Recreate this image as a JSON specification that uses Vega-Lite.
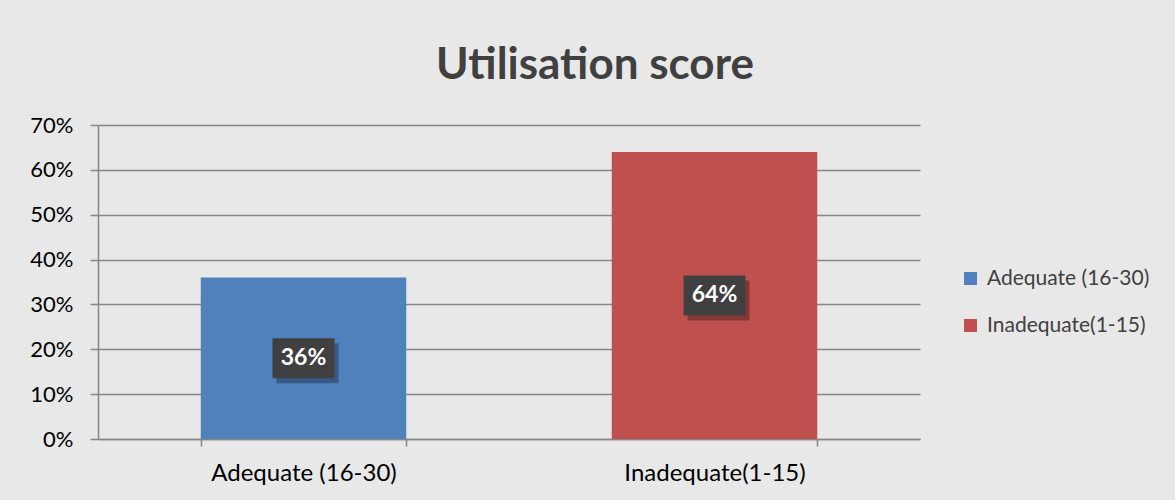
{
  "$schema": "https://vega.github.io/schema/vega-lite/v6.json",
  "autosize": "none",
  "width": 822,
  "height": 314,
  "padding": {"left": 98, "top": 125, "right": 255, "bottom": 61},
  "background": "#e8e8e8",
  "title": {
    "text": "Utilisation score",
    "font": "Lato",
    "fontSize": 44,
    "fontWeight": "bold",
    "color": "#404040",
    "anchor": "middle",
    "frame": "group",
    "dx": 86,
    "offset": 26
  },
  "data": {
    "values": [
      {"category": "Adequate (16-30)", "value": 0.36},
      {"category": "Inadequate(1-15)", "value": 0.64}
    ]
  },
  "transform": [{"calculate": "datum.value / 2", "as": "mid"}],
  "encoding": {
    "x": {
      "field": "category",
      "type": "nominal",
      "sort": null,
      "scale": {"paddingInner": 0.5, "paddingOuter": 0.25},
      "axis": {
        "title": null,
        "labelAngle": 0,
        "labelLimit": 0,
        "labelFont": "Lato",
        "labelFontSize": 24,
        "labelColor": "#000000",
        "labelPadding": 15,
        "domainColor": "#868686",
        "domainWidth": 1.5,
        "tickColor": "#868686",
        "tickWidth": 1.5,
        "tickSize": 7,
        "tickBand": "extent",
        "grid": false
      }
    }
  },
  "layer": [
    {
      "mark": {"type": "bar"},
      "encoding": {
        "y": {
          "field": "value",
          "type": "quantitative",
          "scale": {"domain": [0, 0.7], "nice": false},
          "axis": {
            "title": null,
            "values": [0, 0.1, 0.2, 0.3, 0.4, 0.5, 0.6, 0.7],
            "format": ".0%",
            "labelFont": "Lato",
            "labelFontSize": 22,
            "labelColor": "#000000",
            "labelPadding": 17,
            "domainColor": "#868686",
            "domainWidth": 1.5,
            "tickColor": "#868686",
            "tickWidth": 1.5,
            "tickSize": 8,
            "grid": true,
            "gridColor": "#868686",
            "gridWidth": 1.5
          }
        },
        "color": {
          "field": "category",
          "type": "nominal",
          "sort": null,
          "scale": {"range": ["#4F81BD", "#C0504D"]},
          "legend": {
            "title": null,
            "orient": "none",
            "legendX": 862,
            "legendY": 143,
            "padding": 0,
            "symbolType": "square",
            "symbolSize": 170,
            "symbolStrokeWidth": 0,
            "labelFont": "Lato",
            "labelFontSize": 21,
            "labelColor": "#404040",
            "labelOffset": 6,
            "labelLimit": 0,
            "rowPadding": 25
          }
        }
      }
    },
    {
      "mark": {
        "type": "point",
        "shape": "M-1,-0.645H1V0.645H-1Z",
        "size": 3844,
        "filled": true,
        "color": "#000000",
        "opacity": 0.3,
        "xOffset": 4,
        "yOffset": 5
      },
      "encoding": {"y": {"field": "mid", "type": "quantitative"}}
    },
    {
      "mark": {
        "type": "point",
        "shape": "M-1,-0.645H1V0.645H-1Z",
        "size": 3844,
        "filled": true,
        "color": "#404040",
        "opacity": 1
      },
      "encoding": {"y": {"field": "mid", "type": "quantitative"}}
    },
    {
      "mark": {
        "type": "text",
        "font": "Lato",
        "fontSize": 23,
        "fontWeight": "bold",
        "color": "#ffffff",
        "baseline": "middle",
        "align": "center"
      },
      "encoding": {
        "y": {"field": "mid", "type": "quantitative"},
        "text": {"field": "value", "type": "quantitative", "format": ".0%"}
      }
    }
  ],
  "config": {"view": {"stroke": null}}
}
